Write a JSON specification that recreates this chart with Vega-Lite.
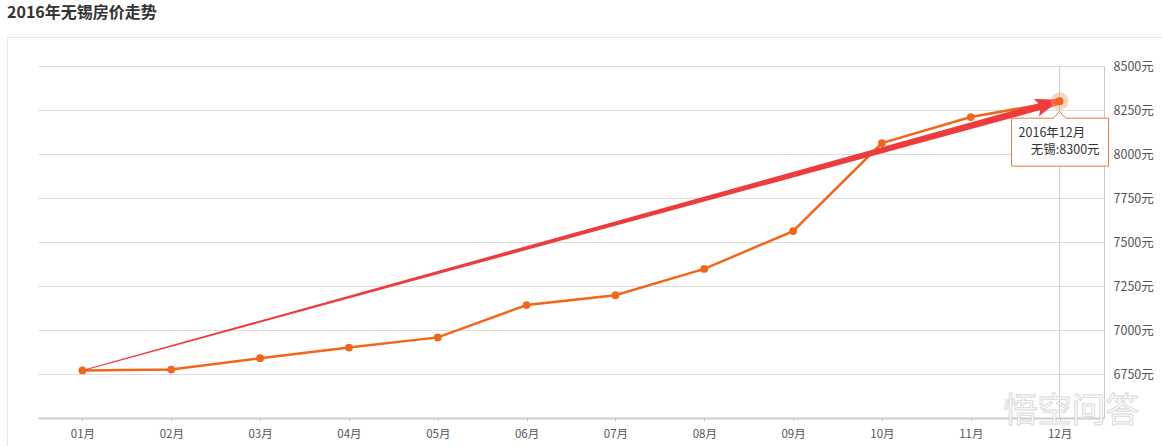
{
  "$schema": "https://vega.github.io/schema/vega-lite/v6.json",
  "width": 1155,
  "height": 409,
  "autosize": {"type": "none"},
  "padding": {"left": 7, "top": 37, "right": 0, "bottom": 0},
  "background": "white",
  "config": {
    "font": "Noto Sans CJK SC",
    "view": {"stroke": "#e6e6e6", "strokeWidth": 1}
  },
  "title": {
    "text": "2016年无锡房价走势",
    "anchor": "start",
    "frame": "group",
    "fontSize": 16,
    "fontWeight": "bold",
    "color": "#333333",
    "offset": 16
  },
  "datasets": {
    "prices": [
      {"month": "01月", "price": 6770},
      {"month": "02月", "price": 6775},
      {"month": "03月", "price": 6840},
      {"month": "04月", "price": 6900},
      {"month": "05月", "price": 6958},
      {"month": "06月", "price": 7142},
      {"month": "07月", "price": 7198},
      {"month": "08月", "price": 7347},
      {"month": "09月", "price": 7562},
      {"month": "10月", "price": 8062},
      {"month": "11月", "price": 8210},
      {"month": "12月", "price": 8300}
    ],
    "trend": [
      {"month": "01月", "price": 6770},
      {"month": "12月", "price": 8300}
    ],
    "tip": [
      {"month": "12月", "price": 8300, "top": 8500, "bottom": 6500, "date": "2016年12月", "label": "无锡:8300元"}
    ],
    "watermark": [
      {"month": "12月", "price": 6500, "text": "悟空问答"}
    ]
  },
  "encoding": {
    "x": {
      "field": "month",
      "type": "ordinal",
      "scale": {
        "type": "point",
        "padding": 0.5,
        "range": [31, 1097],
        "domain": ["01月", "02月", "03月", "04月", "05月", "06月", "07月", "08月", "09月", "10月", "11月", "12月"]
      },
      "axis": {
        "title": null,
        "offset": -28,
        "labelAngle": 0,
        "grid": false,
        "domainColor": "#cccccc",
        "domainWidth": 2,
        "tickColor": "#cccccc",
        "tickSize": 3,
        "labelPadding": 7,
        "labelFontSize": 11.5,
        "labelColor": "#555555"
      }
    }
  },
  "resolve": {"axis": {"y": "independent"}},
  "layer": [
    {
      "data": {"name": "tip"},
      "mark": {"type": "rule", "color": "#cccccc", "strokeWidth": 1},
      "encoding": {
        "y": {
          "field": "top",
          "type": "quantitative",
          "scale": {"domain": [6500, 8500], "range": [381, 29], "nice": false, "zero": false},
          "axis": {
            "title": null,
            "orient": "left",
            "offset": -31,
            "values": [6750, 7000, 7250, 7500, 7750, 8000, 8250, 8500],
            "labels": false,
            "ticks": false,
            "domain": false,
            "grid": true,
            "gridColor": "#dddddd"
          }
        },
        "y2": {"field": "bottom"}
      }
    },
    {
      "encoding": {
        "y": {
          "field": "price",
          "type": "quantitative",
          "scale": {"domain": [6500, 8500], "range": [381, 29], "nice": false, "zero": false},
          "axis": {
            "title": null,
            "orient": "right",
            "offset": -58,
            "values": [6750, 7000, 7250, 7500, 7750, 8000, 8250, 8500],
            "labelExpr": "datum.value + '元'",
            "ticks": false,
            "grid": false,
            "labelPadding": 9,
            "domainColor": "#cccccc",
            "labelFontSize": 12.5,
            "labelColor": "#555555"
          }
        }
      },
      "layer": [
        {
          "data": {"name": "prices"},
          "mark": {"type": "line", "color": "#f2661a", "strokeWidth": 2.5}
        },
        {
          "data": {"name": "trend"},
          "mark": {"type": "trail", "color": "#ef3b3b"},
          "encoding": {
            "size": {
              "field": "price",
              "type": "quantitative",
              "scale": {"domain": [6770, 8300], "range": [1, 7]},
              "legend": null
            }
          }
        },
        {
          "data": {"name": "tip"},
          "mark": {
            "type": "point",
            "shape": "M0.1,-0.1 L-2,-0.75 L-1.6,0 L-2,0.75 Z",
            "filled": true,
            "color": "#ef3b3b",
            "opacity": 1,
            "size": 576,
            "angle": 344.4
          }
        },
        {
          "data": {"name": "tip"},
          "mark": {"type": "point", "shape": "circle", "filled": true, "color": "#f7a56e", "opacity": 0.45, "size": 320}
        },
        {
          "data": {"name": "prices"},
          "mark": {"type": "point", "shape": "circle", "filled": true, "color": "#f2661a", "opacity": 1, "size": 60}
        },
        {
          "data": {"name": "tip"},
          "mark": {
            "type": "point",
            "shape": "M-0.96,0.34 L-0.12,0.34 L0,0.2 L0.12,0.34 L0.98,0.34 L0.98,1.3 L-0.96,1.3 Z",
            "size": 10000,
            "fill": "white",
            "fillOpacity": 1,
            "stroke": "#e27b3e",
            "strokeWidth": 1,
            "strokeOpacity": 1,
            "opacity": 1
          }
        },
        {
          "data": {"name": "tip"},
          "mark": {"type": "text", "align": "left", "baseline": "middle", "dx": -41, "dy": 32, "fontSize": 12.5, "color": "#333333"},
          "encoding": {"text": {"field": "date"}}
        },
        {
          "data": {"name": "tip"},
          "mark": {"type": "text", "align": "right", "baseline": "middle", "dx": 40, "dy": 49, "fontSize": 12.5, "color": "#333333"},
          "encoding": {"text": {"field": "label"}}
        },
        {
          "data": {"name": "watermark"},
          "mark": {
            "type": "text",
            "align": "center",
            "baseline": "middle",
            "dx": 12,
            "dy": -6,
            "fontSize": 34,
            "fill": "white",
            "stroke": "#d6d6d6",
            "strokeWidth": 1,
            "opacity": 0.9
          },
          "encoding": {"text": {"field": "text"}}
        }
      ]
    }
  ]
}
